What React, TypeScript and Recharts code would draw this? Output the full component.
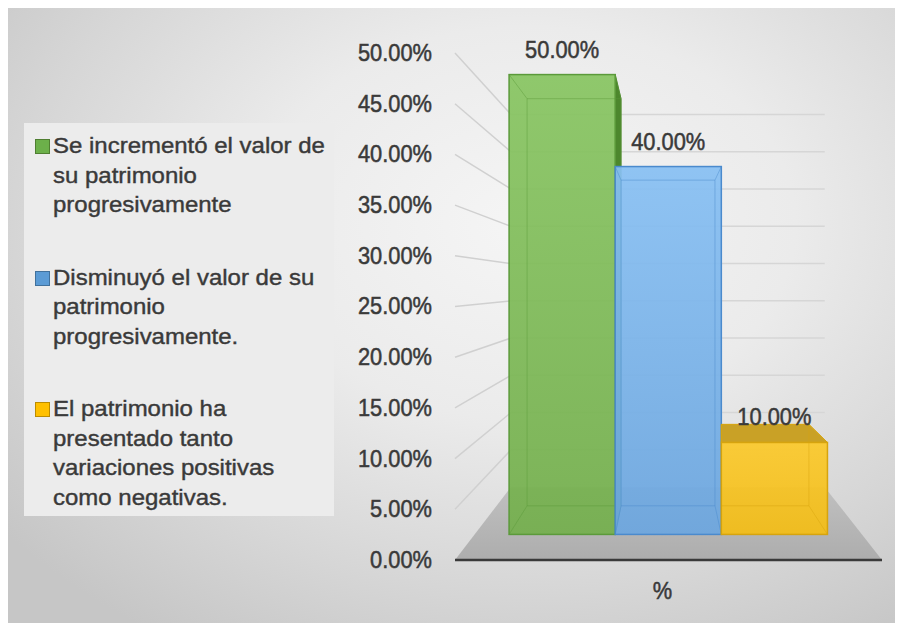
import React from 'react';
import { BarChart, Bar, XAxis, YAxis, CartesianGrid, LabelList } from 'recharts';

// --- data ---
const CATEGORIES = ['%'];
const SERIES_NAMES = [
  'Se incrementó el valor de\nsu patrimonio\nprogresivamente',
  'Disminuyó el valor de su\npatrimonio\nprogresivamente.',
  'El patrimonio ha\npresentado tanto\nvariaciones positivas\ncomo negativas.',
];
const SERIES_VALUES = [0.5, 0.4, 0.1];
const Y_TICKS = [0, 0.05, 0.1, 0.15, 0.2, 0.25, 0.3, 0.35, 0.4, 0.45, 0.5];

const PALETTES = [
  { top: '#88c562', bottom: '#74af4d', edge: '#5b9a3a', side: '#4d872d', cap: '#5d9c3c', key: '#6cb04a', keyEdge: '#4f7e31' },
  { top: '#88c0f3', bottom: '#6ca6df', edge: '#4a8acd', side: '#3e78ba', cap: '#4f8ece', key: '#5b9bd5', keyEdge: '#41719c' },
  { top: '#fbc92b', bottom: '#f3bd16', edge: '#d6a40e', side: '#b98f14', cap: '#c9a126', key: '#ffc000', keyEdge: '#bc8c00' },
];

const data = CATEGORIES.map((cat) => {
  const row: any = { cat };
  SERIES_VALUES.forEach((v, i) => { row[`s${i}`] = v; });
  return row;
});

// --- layout ---
const W = 895;
const H = 615;
const MARGIN = { top: 45, right: 21, bottom: 23, left: 347 };
const X_AXIS_H = 40;
const PLOT_BOTTOM = H - MARGIN.bottom - X_AXIS_H;
const FONT = '"Liberation Sans", Arial, sans-serif';
const TEXT = '#3a3a3a';
const AXIS_FS = 23;
const AXIS_SX = 0.95;

// simple one-point perspective: depth k pulls a point towards VP
const VP = { x: 658, y: 277 };
const K_FRONT = 0.093;
const K_BACK = 0.197;
const K_WALL = 0.265;
const proj = (x: number, y: number, k: number) => ({ x: x + (VP.x - x) * k, y: y + (VP.y - y) * k });
const pts = (arr: { x: number; y: number }[]) => arr.map((p) => `${p.x},${p.y}`).join(' ');
const pct = (v: number) => `${(v * 100).toFixed(2)}%`;
const stretch = (x: number, y: number, s: number) => `translate(${x} ${y}) scale(${s} 1) translate(${-x} ${-y})`;

// left wall + back wall gridlines, and the floor at 0
const WallLine = (p: any) => {
  const { x1, x2, y1 } = p;
  const a = proj(x1, y1, K_WALL);
  const b = proj(x2, y1, K_WALL);
  if (Math.abs(y1 - PLOT_BOTTOM) < 1) {
    return (
      <g key={p.key}>
        <defs>
          <linearGradient id="floorGrad" x1="0" y1="0" x2="0" y2="1">
            <stop offset="0%" stopColor="#c0c0c0" />
            <stop offset="100%" stopColor="#adadad" />
          </linearGradient>
        </defs>
        <polygon points={pts([{ x: x1, y: y1 }, { x: x2, y: y1 }, b, a])} fill="url(#floorGrad)" />
      </g>
    );
  }
  return (
    <g key={p.key}>
      <line x1={x1} y1={y1} x2={a.x} y2={a.y} stroke="#d0d0d0" strokeWidth={1.5} />
      <line x1={a.x} y1={a.y} x2={b.x} y2={b.y} stroke="#d6d6d6" strokeWidth={1.5} />
    </g>
  );
};

const Box3D = (props: any) => {
  const { x, y, width, height, pal, gid } = props;
  if (!height || height <= 0) return null;
  const xl = x;
  const xr = x + width;
  const yt = y;
  const yb = y + height;
  const f = { tl: proj(xl, yt, K_FRONT), tr: proj(xr, yt, K_FRONT), bl: proj(xl, yb, K_FRONT), br: proj(xr, yb, K_FRONT) };
  const b = { tl: proj(xl, yt, K_BACK), tr: proj(xr, yt, K_BACK), bl: proj(xl, yb, K_BACK), br: proj(xr, yb, K_BACK) };
  // the left face of a bar right of the eye is hidden by its neighbour
  if (xl > VP.x) {
    b.tl = { x: Math.max(b.tl.x, f.tl.x), y: b.tl.y };
    b.bl = { x: Math.max(b.bl.x, f.bl.x), y: b.bl.y };
  }
  const showSide = xr < VP.x;
  const showTop = b.tl.y < f.tl.y;
  return (
    <g>
      <defs>
        <linearGradient id={gid} x1="0" y1="0" x2="0" y2="1">
          <stop offset="0%" stopColor={pal.top} />
          <stop offset="100%" stopColor={pal.bottom} />
        </linearGradient>
      </defs>
      {showSide && <polygon points={pts([f.tr, b.tr, b.br, f.br])} fill={pal.side} stroke={pal.side} strokeWidth={1} />}
      {showTop && <polygon points={pts([f.tl, f.tr, b.tr, b.tl])} fill={pal.cap} stroke={pal.edge} strokeWidth={1} />}
      <rect x={f.tl.x} y={f.tl.y} width={f.tr.x - f.tl.x} height={f.bl.y - f.tl.y} fill={`url(#${gid})`} fillOpacity={0.93} stroke={pal.edge} strokeWidth={1.5} />
      <g stroke={pal.edge} strokeOpacity={0.45} strokeWidth={1} fill="none">
        <polygon points={pts([b.tl, b.tr, b.br, b.bl])} />
        <line x1={f.tl.x} y1={f.tl.y} x2={b.tl.x} y2={b.tl.y} />
        <line x1={f.tr.x} y1={f.tr.y} x2={b.tr.x} y2={b.tr.y} />
        <line x1={f.bl.x} y1={f.bl.y} x2={b.bl.x} y2={b.bl.y} />
        <line x1={f.br.x} y1={f.br.y} x2={b.br.x} y2={b.br.y} />
      </g>
    </g>
  );
};

const textProps = { fill: TEXT, stroke: TEXT, strokeWidth: 0.5, fontSize: AXIS_FS, fontFamily: FONT };

const BarLabel = (p: any) => {
  const vb = p.viewBox ?? p;
  const top = proj(vb.x + vb.width / 2, vb.y, K_FRONT);
  const ty = top.y - 17;
  return (
    <text x={top.x} y={ty} textAnchor="middle" {...textProps} transform={stretch(top.x, ty, AXIS_SX)}>
      {pct(Number(p.value))}
    </text>
  );
};

const YTick = (p: any) => {
  const ty = p.y + 8;
  return (
    <text x={p.x} y={ty} textAnchor="end" {...textProps} transform={stretch(p.x, ty, AXIS_SX)}>
      {pct(p.payload.value)}
    </text>
  );
};

const XTick = (p: any) => {
  const tx = p.x - 6;
  const ty = p.y + 39;
  return (
    <text x={tx} y={ty} textAnchor="middle" {...textProps} transform={stretch(tx, ty, AXIS_SX)}>
      {p.payload.value}
    </text>
  );
};

const SideLegend = () => (
  <div
    style={{
      position: 'absolute', left: 16, top: 115, width: 310, height: 393,
      background: '#ececec', paddingTop: 8, boxSizing: 'border-box',
    }}
  >
    {SERIES_NAMES.map((name, i) => (
      <div key={name} style={{ display: 'flex', alignItems: 'flex-start', marginBottom: 43 }}>
        <span
          style={{
            flex: 'none', width: 13, height: 13, marginTop: 8, marginLeft: 11, marginRight: 3,
            background: PALETTES[i].key, border: `1px solid ${PALETTES[i].keyEdge}`,
          }}
        />
        <div
          style={{
            whiteSpace: 'pre-line', fontSize: 22, lineHeight: '29.5px', color: TEXT,
            WebkitTextStroke: `0.4px ${TEXT}`,
            fontFamily: FONT, transform: 'scaleX(1.09)', transformOrigin: 'left top',
          }}
        >
          {name}
        </div>
      </div>
    ))}
  </div>
);

export default function App() {
  return (
    <div
      style={{
        position: 'relative', width: W, height: H, fontFamily: FONT,
        background: 'radial-gradient(ellipse 75% 80% at 58% 35%, #f5f5f5 0%, #ebebeb 40%, #d6d6d6 75%, #c6c6c6 100%)',
      }}
    >
      <BarChart width={W} height={H} data={data} margin={MARGIN} barGap={0} barSize={117} style={{ position: 'absolute', left: 0, top: 0 }}>
        <CartesianGrid vertical={false} horizontal={WallLine} />
        <XAxis
          dataKey="cat"
          height={X_AXIS_H}
          axisLine={{ stroke: '#3a3a3a', strokeWidth: 2.5 }}
          tickLine={false}
          tickSize={0}
          tickMargin={0}
          tick={XTick}
        />
        <YAxis
          type="number"
          domain={[0, 0.5]}
          ticks={Y_TICKS}
          interval={0}
          width={100}
          axisLine={false}
          tickLine={false}
          tickSize={0}
          tickMargin={23}
          tick={YTick}
        />
        {SERIES_VALUES.map((_, i) => (
          <Bar
            key={i}
            dataKey={`s${i}`}
            name={SERIES_NAMES[i]}
            isAnimationActive={false}
            shape={(p: any) => <Box3D {...p} pal={PALETTES[i]} gid={`barGrad${i}`} />}
          >
            <LabelList dataKey={`s${i}`} content={BarLabel} />
          </Bar>
        ))}
      </BarChart>
      <SideLegend />
    </div>
  );
}
